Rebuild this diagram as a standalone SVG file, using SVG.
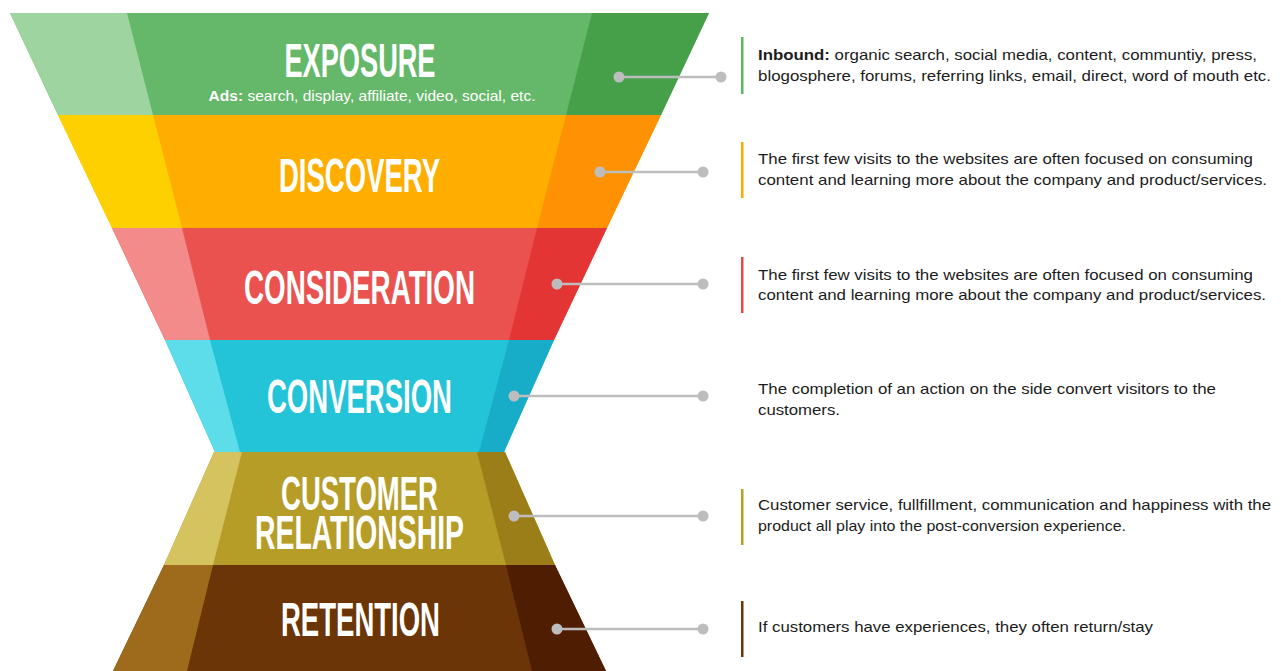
<svg xmlns="http://www.w3.org/2000/svg" width="1281" height="671" viewBox="0 0 1281 671">
<style>
.title{font-family:"Liberation Sans","DejaVu Sans Condensed",Arial,sans-serif;font-weight:700;font-size:48px;fill:#ffffff;text-anchor:middle}
.ads{font-family:"Liberation Sans",Arial,sans-serif;font-size:14.5px;fill:#ffffff;text-anchor:middle}
.desc{font-family:"Liberation Sans",Arial,sans-serif;font-size:15px;fill:#1c1c1c}
.conn line{stroke:#bdbdbd;stroke-width:2.5}
.conn circle{fill:#bdbdbd}
</style>
<rect width="1281" height="671" fill="#ffffff"/>

<g id="exposure">
<polygon points="10,13 709,13 661,115 58,115" fill="#65b869"/>
<polygon points="10,13 127,13 153,115 58,115" fill="#9ed49f"/>
<polygon points="592,13 709,13 661,115 566,115" fill="#46a04a"/>
<text class="title" x="360" y="77" textLength="151" lengthAdjust="spacingAndGlyphs">EXPOSURE</text>
<text class="ads" x="372" y="101" textLength="327" lengthAdjust="spacingAndGlyphs"><tspan font-weight="700">Ads:</tspan> search, display, affiliate, video, social, etc.</text>
</g>

<g id="discovery">
<polygon points="58,115 661,115 607,228 112,228" fill="#ffae00"/>
<polygon points="58,115 153,115 182,228 112,228" fill="#ffd000"/>
<polygon points="566,115 661,115 607,228 537,228" fill="#fe9204"/>
<text class="title" x="359.5" y="192" textLength="161" lengthAdjust="spacingAndGlyphs">DISCOVERY</text>
</g>

<g id="consideration">
<polygon points="112,228 607,228 554,340 165,340" fill="#ea524f"/>
<polygon points="112,228 182,228 210,340 165,340" fill="#f28b89"/>
<polygon points="537,228 607,228 554,340 509,340" fill="#e33533"/>
<text class="title" x="359.5" y="304" textLength="231" lengthAdjust="spacingAndGlyphs">CONSIDERATION</text>
</g>

<g id="conversion">
<polygon points="165,340 554,340 504,452 215,452" fill="#23c3d8"/>
<polygon points="165,340 210,340 240,452 215,452" fill="#5ddce9"/>
<polygon points="509,340 554,340 504,452 479,452" fill="#17acc8"/>
<text class="title" x="359.5" y="413" textLength="185" lengthAdjust="spacingAndGlyphs">CONVERSION</text>
</g>

<g id="customer-relationship">
<polygon points="214,452 505,452 555,565 164,565" fill="#b59d28"/>
<polygon points="214,452 242,452 213,565 164,565" fill="#d4c35e"/>
<polygon points="477,452 505,452 555,565 506,565" fill="#9b7e18"/>
<text class="title"><tspan x="359.5" y="510" textLength="157" lengthAdjust="spacingAndGlyphs">CUSTOMER</tspan><tspan x="359.5" y="549" textLength="209" lengthAdjust="spacingAndGlyphs">RELATIONSHIP</tspan></text>
</g>

<g id="retention">
<polygon points="164,565 555,565 606,671 113,671" fill="#6b3507"/>
<polygon points="164,565 213,565 187,671 113,671" fill="#9e6b1c"/>
<polygon points="506,565 555,565 606,671 532,671" fill="#4f1d01"/>
<text class="title" x="360.5" y="636" textLength="159" lengthAdjust="spacingAndGlyphs">RETENTION</text>
</g>

<g id="connectors" class="conn">
<line x1="619" y1="77" x2="721" y2="77"/><circle cx="619" cy="77" r="5.5"/><circle cx="721" cy="77" r="5.5"/>
<line x1="600" y1="172" x2="703" y2="172"/><circle cx="600" cy="172" r="5.5"/><circle cx="703" cy="172" r="5.5"/>
<line x1="557" y1="284" x2="703" y2="284"/><circle cx="557" cy="284" r="5.5"/><circle cx="703" cy="284" r="5.5"/>
<line x1="514" y1="396" x2="703" y2="396"/><circle cx="514" cy="396" r="5.5"/><circle cx="703" cy="396" r="5.5"/>
<line x1="514" y1="516" x2="703" y2="516"/><circle cx="514" cy="516" r="5.5"/><circle cx="703" cy="516" r="5.5"/>
<line x1="557" y1="629" x2="703" y2="629"/><circle cx="557" cy="629" r="5.5"/><circle cx="703" cy="629" r="5.5"/>
</g>

<g id="desc-exposure">
<rect x="741" y="37" width="2.5" height="57" fill="#5cb85f"/>
<text class="desc" x="758" y="60" textLength="499" lengthAdjust="spacingAndGlyphs"><tspan font-weight="700">Inbound:</tspan> organic search, social media, content, communtiy, press,</text>
<text class="desc" x="758" y="81" textLength="513" lengthAdjust="spacingAndGlyphs">blogosphere, forums, referring links, email, direct, word of mouth etc.</text>
</g>
<g id="desc-discovery">
<rect x="741" y="142" width="2.5" height="56" fill="#ffa800"/>
<text class="desc" x="758" y="164" textLength="495" lengthAdjust="spacingAndGlyphs">The first few visits to the websites are often focused on consuming</text>
<text class="desc" x="758" y="185" textLength="509" lengthAdjust="spacingAndGlyphs">content and learning more about the company and product/services.</text>
</g>
<g id="desc-consideration">
<rect x="741" y="257" width="2.5" height="56" fill="#e84845"/>
<text class="desc" x="758" y="280" textLength="495" lengthAdjust="spacingAndGlyphs">The first few visits to the websites are often focused on consuming</text>
<text class="desc" x="758" y="300" textLength="508" lengthAdjust="spacingAndGlyphs">content and learning more about the company and product/services.</text>
</g>
<g id="desc-conversion">
<text class="desc" x="758" y="394" textLength="458" lengthAdjust="spacingAndGlyphs">The completion of an action on the side convert visitors to the</text>
<text class="desc" x="758" y="415" textLength="82" lengthAdjust="spacingAndGlyphs">customers.</text>
</g>
<g id="desc-customer-relationship">
<rect x="741" y="489" width="2.5" height="56" fill="#b59d28"/>
<text class="desc" x="758" y="510" textLength="513" lengthAdjust="spacingAndGlyphs">Customer service, fullfillment, communication and happiness with the</text>
<text class="desc" x="758" y="531" textLength="368" lengthAdjust="spacingAndGlyphs">product all play into the post-conversion experience.</text>
</g>
<g id="desc-retention">
<rect x="741" y="601" width="2.5" height="56" fill="#6b3507"/>
<text class="desc" x="758" y="632" textLength="395" lengthAdjust="spacingAndGlyphs">If customers have experiences, they often return/stay</text>
</g>
</svg>
